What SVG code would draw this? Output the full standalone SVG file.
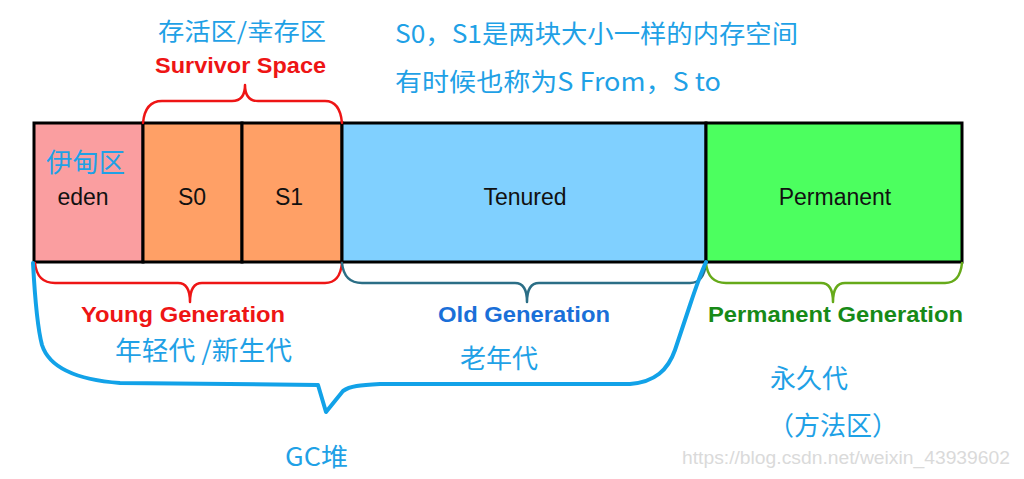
<svg xmlns="http://www.w3.org/2000/svg" width="1024" height="479" viewBox="0 0 1024 479">
<style>
.box{stroke:#000;stroke-width:3}
.lbl{font-family:"Liberation Sans",Arial,sans-serif;font-size:23px;fill:#111;text-anchor:middle}
.cn{font-family:"Noto Sans CJK SC","Microsoft YaHei",sans-serif;fill:#1FA1E6}
.gen{font-family:"Liberation Sans",Arial,sans-serif;font-weight:bold;font-size:22px}
.brace{fill:none;stroke-width:2.5;stroke-linecap:round;stroke-linejoin:round}
</style>
<rect width="1024" height="479" fill="#fff"/>
<g id="eden">
<rect class="box" x="34" y="123" width="109" height="139" fill="#FA9EA0"/>
<text class="cn" x="46" y="172" font-size="26" textLength="79" lengthAdjust="spacingAndGlyphs">伊甸区</text>
<text class="lbl" x="83" y="205">eden</text>
</g>
<g id="s0">
<rect class="box" x="143" y="123" width="99" height="139" fill="#FFA066"/>
<text class="lbl" x="192" y="205">S0</text>
</g>
<g id="s1">
<rect class="box" x="242" y="123" width="100" height="139" fill="#FFA066"/>
<text class="lbl" x="289" y="205">S1</text>
</g>
<g id="tenured">
<rect class="box" x="342" y="123" width="364" height="139" fill="#80D0FF"/>
<text class="lbl" x="525" y="205">Tenured</text>
</g>
<g id="permanent">
<rect class="box" x="706" y="123" width="256" height="139" fill="#4CFF5F"/>
<text class="lbl" x="835" y="205">Permanent</text>
</g>
<g id="connectors">
<path class="brace" stroke="#EE1515" d="M143 123 Q145 101 162 101 L232 101 Q245 101 245 85 Q245 101 258 101 L325 101 Q340 101 342 123"/>
<path class="brace" stroke="#EE1515" d="M35 263 Q37 283 55 283 L178 283 Q190 283 190 302 Q190 283 202 283 L325 283 Q340 283 342 263"/>
<path class="brace" stroke="#2B6E86" d="M342 263 Q344 283 362 283 L515 283 Q527 283 527 302 Q527 283 539 283 L690 283 Q704 283 706 263"/>
<path class="brace" stroke="#66AA1A" d="M706 263 Q708 283 726 283 L821 283 Q833 283 833 302 Q833 283 845 283 L945 283 Q960 283 962 263"/>
<path fill="none" stroke="#12A2E8" stroke-width="4" stroke-linejoin="round" stroke-linecap="round" d="M33 263 C35 300 38 330 42 345 C50 370 80 380 120 383 L318 385 L326 412 L343 391 C350 386 360 385 380 384 L630 384 C655 382 668 370 675 350 L690 305 C695 290 700 275 706 262"/>
</g>
<g id="labels">
<text class="cn" x="158" y="40" font-size="24" textLength="168" lengthAdjust="spacingAndGlyphs">存活区/幸存区</text>
<text class="gen" x="155" y="73" fill="#EE1515" font-size="21" textLength="171" lengthAdjust="spacingAndGlyphs">Survivor Space</text>
<text class="cn" x="395" y="43" font-size="25" textLength="403" lengthAdjust="spacingAndGlyphs">S0，S1是两块大小一样的内存空间</text>
<text class="cn" x="395" y="91" font-size="25" textLength="326" lengthAdjust="spacingAndGlyphs">有时候也称为S From，S to</text>
<text class="gen" x="81" y="322" fill="#EE1515" font-size="23" textLength="204" lengthAdjust="spacingAndGlyphs">Young Generation</text>
<text class="gen" x="438" y="322" fill="#1A6FD8" font-size="23" textLength="172" lengthAdjust="spacingAndGlyphs">Old Generation</text>
<text class="gen" x="708" y="322" fill="#178A17" font-size="23" textLength="255" lengthAdjust="spacingAndGlyphs">Permanent Generation</text>
<text class="cn" x="115" y="360" font-size="26" textLength="177" lengthAdjust="spacingAndGlyphs">年轻代 /新生代</text>
<text class="cn" x="460" y="368" font-size="26" textLength="78" lengthAdjust="spacingAndGlyphs">老年代</text>
<text class="cn" x="770" y="388" font-size="26" textLength="78" lengthAdjust="spacingAndGlyphs">永久代</text>
<text class="cn" x="768" y="435" font-size="26">（方法区）</text>
<text class="cn" x="285" y="466" font-size="25" textLength="63" lengthAdjust="spacingAndGlyphs">GC堆</text>
<text x="682" y="464" font-family="Liberation Sans,Arial,sans-serif" font-size="18" fill="#DADADA" textLength="328" lengthAdjust="spacingAndGlyphs">https://blog.csdn.net/weixin_43939602</text>
</g>
</svg>
